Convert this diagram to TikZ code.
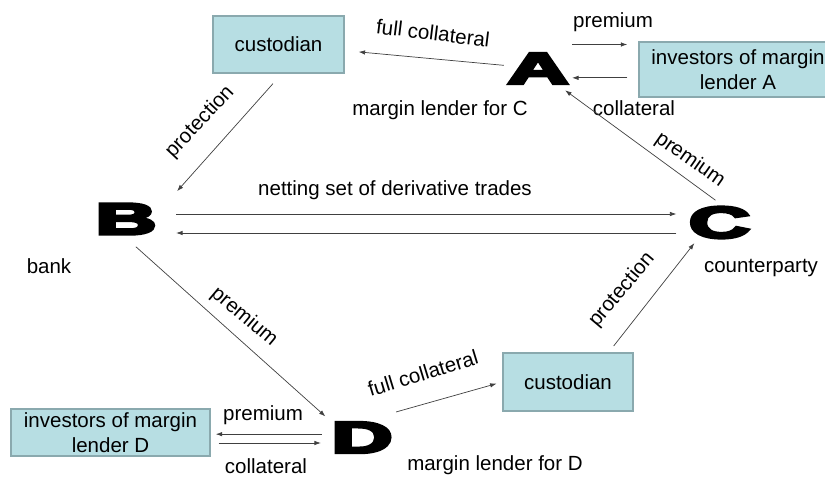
\documentclass[tikz,border=0pt]{standalone}
\usepackage{graphicx}
\usepackage{fontspec}
\setmainfont{Liberation Sans}
\newfontfamily\heavyfont[FakeBold=6]{Liberation Sans Bold}
\usepackage{xcolor}
\usetikzlibrary{arrows.meta,positioning}
\definecolor{boxfill}{HTML}{B7DEE3}
\definecolor{boxline}{HTML}{8AA9AE}
\newcommand{\bigltr}[1]{\scalebox{1.9}[1]{#1}}
\tikzset{
	box/.style={draw=boxline,line width=1.2pt,fill=boxfill,align=center,inner sep=0pt,font=\fontsize{17.5}{21}\selectfont},
	ltr/.style={inner sep=0.1cm,font=\heavyfont\fontsize{38}{38}\selectfont},
	lbl/.style={inner sep=0pt,font=\fontsize{17.5}{21}\selectfont},
	arr/.style={draw=black!75,line width=0.6pt,-{Latex[length=5.5pt,width=3.8pt]}}
}

\begin{document}
\begin{tikzpicture}[x=0.03cm,y=-0.03cm]
		\useasboundingbox (0,0) rectangle (825,476);
		\node[box,minimum width=3.93cm,minimum height=1.71cm] (cusA) at (278.5,44.5) {custodian};
		\node[box,minimum width=5.94cm,minimum height=1.65cm] (invA) at (738,69.5) {investors of margin\\lender A};
		\node[box,minimum width=3.9cm,minimum height=1.74cm] (cusD) at (568,382) {custodian};
		\node[box,minimum width=5.97cm,minimum height=1.41cm] (invD) at (110.5,432.5) {investors of margin\\lender D};
		\node[ltr] (A) at (538,68.5) {\bigltr{A}};
		\node[ltr] (B) at (126,219) {\bigltr{B}};
		\node[ltr] (C) at (719.5,222.5) {\bigltr{C}};
		\node[ltr] (D) at (362,437.5) {\bigltr{D}};

		\node[lbl,rotate=-7] (fullA) at (433,33) {full collateral};
		\node[lbl] (premA) at (613,22) {premium};
		\node[lbl] (collA) at (634,108) {collateral};
		\node[lbl] (lendC) at (440,110) {margin lender for C};
		\node[lbl,rotate=47] (protB) at (200,122) {protection};
		\node[lbl] (netting) at (395,190) {netting set of derivative trades};
		\node[lbl] (bank) at (49,266) {bank};
		\node[lbl] (cparty) at (761,268) {counterparty};
		\node[lbl,rotate=-35] (premC) at (690,160) {premium};
		\node[lbl,rotate=-40] (premB) at (244,317) {premium};
		\node[lbl,rotate=50] (protC) at (622,290) {protection};
		\node[lbl,rotate=17] (fullD) at (423,373) {full collateral};
		\node[lbl] (premD) at (263,415) {premium};
		\node[lbl] (collD) at (266,466) {collateral};
		\node[lbl] (lendD) at (495,465) {margin lender for D};

		\draw[arr,shorten >=0.42cm] (A) -- (cusA);
		\draw[arr,shorten >=0.33cm] ([yshift=0.72cm]A.east) -- ([yshift=0.72cm]A.east -| invA.west);
		\draw[arr,shorten <=0.33cm] ([yshift=-0.25cm]invA.west) -- ([yshift=-0.25cm]invA.west -| A.east);
		\draw[arr,shorten <=0.4cm,shorten >=0.36cm] ([xshift=0.1cm]cusA.south) -- ([xshift=0.27cm]B.north east);
		\draw[arr,shorten <=0.48cm,shorten >=0.27cm] ([yshift=0.15cm]B.east) -- ([yshift=0.15cm]B.east -| C.west);
		\draw[arr,shorten <=0.27cm,shorten >=0.48cm] ([yshift=-0.42cm]B.east -| C.west) -- ([yshift=-0.42cm]B.east);
		\draw[arr,shorten <=0.15cm,shorten >=0.15cm] (C.north) -- ([xshift=-0.33cm]A.south east);
		\draw[arr,shorten <=0.4cm,shorten >=0.1cm] (B.south) -- (D.north west);
		\draw[arr,shorten >=0.18cm] ([yshift=0.2cm]D.north east) -- (cusD.west);
		\draw[arr,shorten <=0.24cm,shorten >=0.05cm] ([xshift=-0.75cm]cusD.north east) -- ([xshift=0.3cm]C.south west);
		\draw[arr,shorten <=0.18cm,shorten >=0.15cm] ([yshift=0.1cm]D.west) -- ([yshift=0.1cm]D.west -| invD.east);
		\draw[arr,shorten <=0.24cm,shorten >=0.21cm] ([yshift=-0.315cm]invD.east) -- ([yshift=-0.315cm]invD.east -| D.west);
	\end{tikzpicture}
\end{document}
